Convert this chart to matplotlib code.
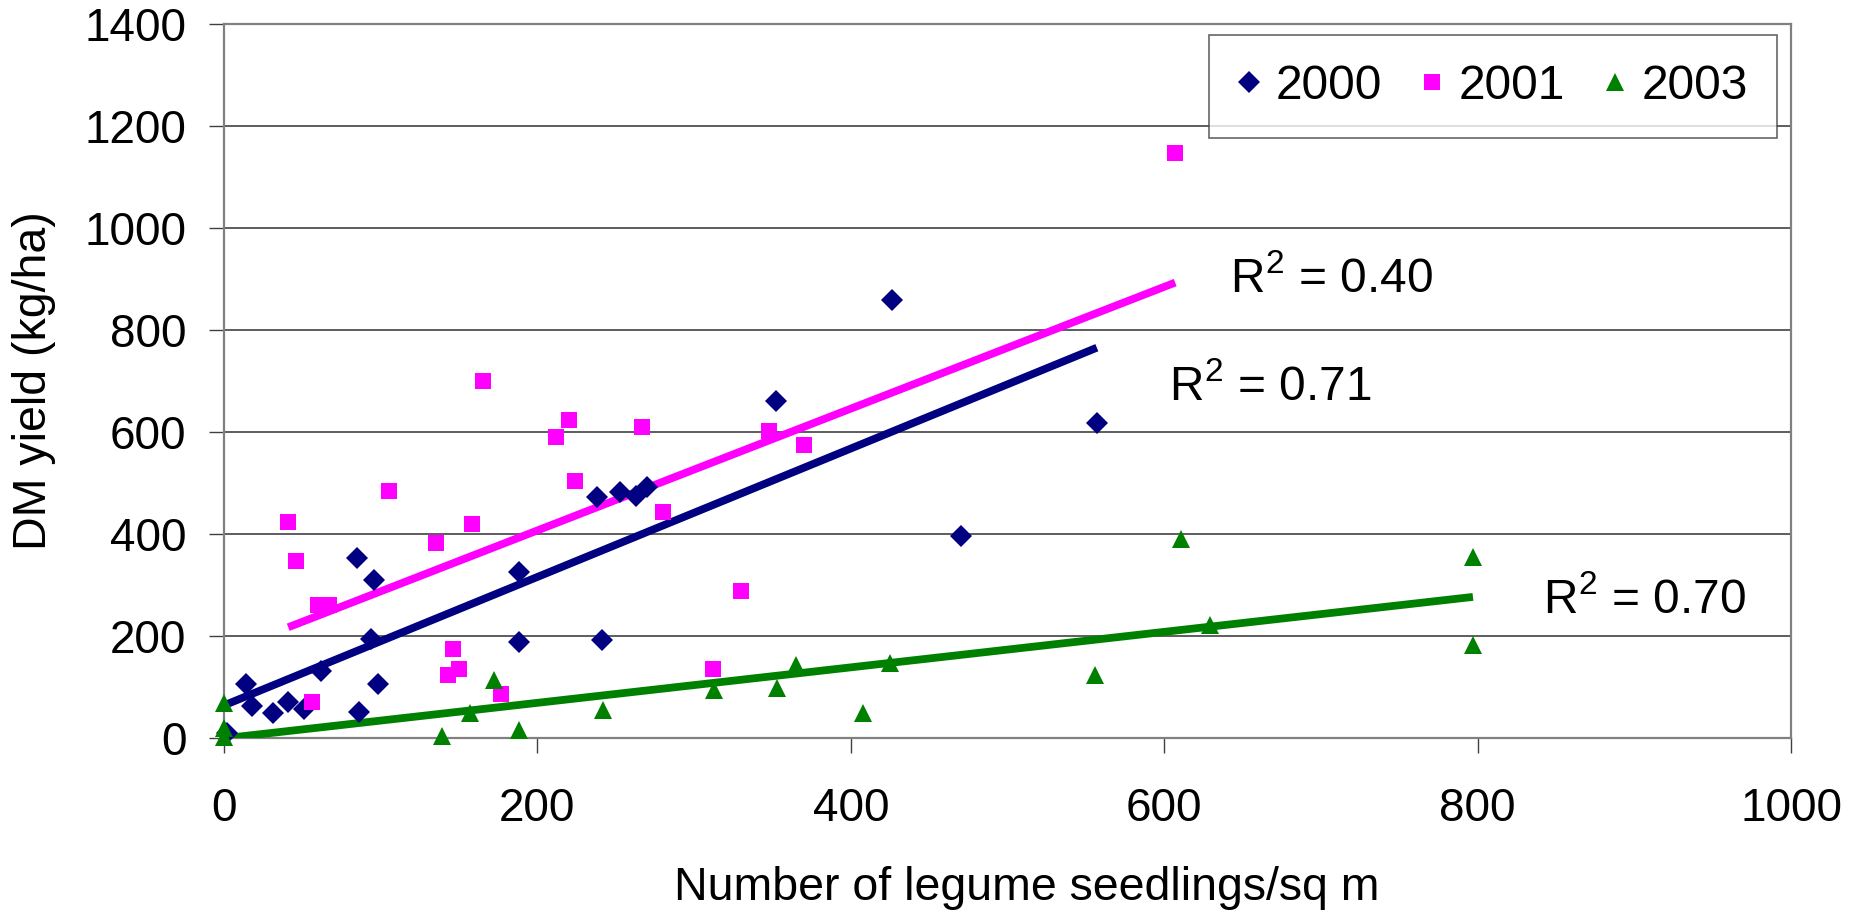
import numpy as np
import matplotlib
matplotlib.use("Agg")
import matplotlib.pyplot as plt

plt.rcParams['font.family'] = ['Liberation Sans', 'DejaVu Sans']
plt.rcParams['mathtext.fontset'] = 'custom'
plt.rcParams['mathtext.rm'] = 'Liberation Sans'
plt.rcParams['mathtext.it'] = 'Liberation Sans'

# seedlings per sq m vs DM yield
x2000 = [2, 14, 18, 31, 41, 51, 62, 85, 86, 94, 96, 98, 188, 188, 238, 241, 253, 263, 270, 352, 426, 470, 557]
y2000 = [10, 106, 64, 49, 72, 57, 132, 354, 52, 194, 310, 106, 325, 189, 473, 193, 483, 475, 493, 661, 859, 397, 617]

x2001 = [41, 46, 56, 60, 67, 105, 135, 143, 146, 150, 158, 165, 177, 212, 220, 224, 267, 280, 312, 330, 348, 370, 607]
y2001 = [424, 348, 71, 261, 261, 484, 382, 124, 174, 136, 420, 699, 87, 590, 624, 504, 609, 443, 136, 288, 602, 574, 1147]

x2003 = [0, 0, 0, 139, 157, 172, 188, 242, 313, 353, 365, 408, 425, 556, 611, 629, 797, 797]
y2003 = [70, 20, 2, 5, 50, 114, 16, 55, 95, 98, 144, 49, 147, 124, 390, 222, 355, 182]

years = ['2000', '2001', '2003']
r2_labels = ['0.71', '0.40', '0.70']
colors = ['#000080', '#FF00FF', '#008000']
markers = ['D', 's', '^']
msizes = [11.3, 11.8, 12.8]
label_pos = [(603, 663), (642, 874), (842, 246)]

fig = plt.figure(figsize=(18.62, 9.15), dpi=100)
ax = fig.add_axes([0.1203, 0.1931, 0.8416, 0.7811])

series = [(x2000, y2000), (x2001, y2001), (x2003, y2003)]
for (xs, ys), yr, c, m, ms, r2, pos in zip(series, years, colors, markers, msizes, r2_labels, label_pos):
    xs = np.array(xs, dtype=float)
    ys = np.array(ys, dtype=float)
    # linear trendline over the data range
    k, b = np.polyfit(xs, ys, 1)
    xl = np.array([xs.min(), xs.max()])
    ax.plot(xl, k * xl + b, color=c, lw=5.6, solid_capstyle='butt', zorder=3)
    ax.plot(xs, ys, linestyle='none', marker=m, ms=ms, color=c, mec=c, mew=0,
            label=yr, clip_on=False, zorder=4)
    ax.text(pos[0], pos[1], r'R$^{\mathrm{2}}$ = ' + r2, fontsize=34.5,
            ha='left', va='baseline', zorder=5)

ax.set_xlim(0, 1000)
ax.set_ylim(0, 1400)
ax.set_xticks(np.arange(0, 1001, 200))
ax.set_yticks(np.arange(0, 1401, 200))
ax.grid(axis='y', color='#505050', lw=1.3)
ax.set_axisbelow(True)
for s in ax.spines.values():
    s.set_color('#808080')
    s.set_linewidth(1.6)
ax.tick_params(axis='both', direction='out', length=11, width=1, color='#404040',
               labelsize=33)
ax.tick_params(axis='x', pad=24)
ax.tick_params(axis='y', pad=16)

ax.set_xlabel('Number of legume seedlings/sq m', fontsize=33.5, va='top')
ax.xaxis.set_label_coords(0.512, -0.179)
ax.set_ylabel('DM yield (kg/ha)', fontsize=33.5, va='center')
ax.yaxis.set_label_coords(-0.121, 0.5)

leg = ax.legend(loc='upper right', bbox_to_anchor=(0.991, 0.984), ncol=3,
                fontsize=34.5, frameon=True, fancybox=False, borderaxespad=0,
                handlelength=0.5, handletextpad=0.3, columnspacing=0.8,
                borderpad=0.6, markerscale=1.0)
leg.get_frame().set_edgecolor('#404040')
leg.get_frame().set_linewidth(1.2)
leg.set_zorder(6)

fig.savefig('out.png', dpi=100)
